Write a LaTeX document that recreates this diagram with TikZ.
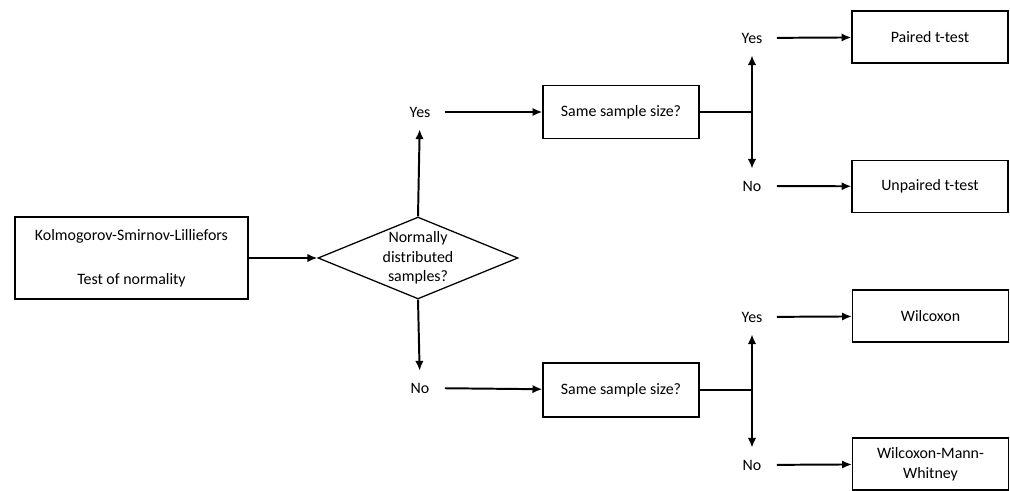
\documentclass[tikz,border=0pt]{standalone}
\usepackage{fontspec}
\setmainfont{Carlito}
\usetikzlibrary{shapes.geometric,arrows.meta}

\begin{document}
\begin{tikzpicture}[x=0.025cm,y=-0.025cm,
    font=\fontsize{11.3}{14}\selectfont,
    box/.style={draw,line width=0.9pt,align=center,minimum width=3.9cm,minimum height=1.3cm,inner sep=0pt},
    answer/.style={minimum width=1.225cm,minimum height=0.85cm,inner sep=0pt},
    arrow/.style={line width=1.4pt,-{Latex[length=7pt,width=6pt]}},
    link/.style={line width=1.4pt}]
  \useasboundingbox (0,0) rectangle (1010,491);
  % start and decision
  \node [box,minimum width=5.825cm,minimum height=2.05cm] (ksl) at (131.5,258)
        {Kolmogorov-Smirnov-Lilliefors\\[17pt]Test of normality};
  \node [draw,diamond,line width=0.9pt,align=center,inner sep=0pt,shape aspect=2.44,
         minimum width=5cm,minimum height=2.03cm] (normal) at (418,258)
        {Normally\\distributed\\samples?};
  \node [answer] (yes1) at (420,112) {Yes};
  \node [answer] (no1)  at (420,388) {No};
  % sample size
  \node [box,minimum height=1.325cm] (same1) at (621,112) {Same sample size?};
  \node [box,minimum height=1.35cm]  (same2) at (621,390) {Same sample size?};
  \node [answer] (yes2) at (752,38)  {Yes};
  \node [answer] (no2)  at (752,186) {No};
  \node [answer] (yes3) at (752,317) {Yes};
  \node [answer] (no3)  at (752,465) {No};
  % tests
  \node [box] (paired)   at (930,37)     {Paired t-test};
  \node [box] (unpaired) at (930,186.5)  {Unpaired t-test};
  \node [box] (wilc)     at (930.5,316)  {Wilcoxon};
  \node [box] (wmw)      at (930.5,464)  {Wilcoxon-Mann-\\Whitney};

  \draw [arrow] (ksl) -- (normal);
  \draw [arrow] (normal.north) -- (yes1);
  \draw [arrow] (normal.south) -- (no1);
  \draw [arrow] (yes1) -- (same1);
  \draw [arrow] (no1) -- (same2);
  \draw [link] (same1.east) -- (same1.east -| yes2.south);
  \draw [link] (same2.east) -- (same2.east -| yes3.south);
  \draw [arrow,{Latex[length=7pt,width=6pt]}-{Latex[length=7pt,width=6pt]}] (yes2) -- (no2);
  \draw [arrow,{Latex[length=7pt,width=6pt]}-{Latex[length=7pt,width=6pt]}] (yes3) -- (no3);
  \draw [arrow] (yes2) -- (paired);
  \draw [arrow] (no2) -- (unpaired);
  \draw [arrow] (yes3) -- (wilc);
  \draw [arrow] (no3) -- (wmw);
\end{tikzpicture}
\end{document}
